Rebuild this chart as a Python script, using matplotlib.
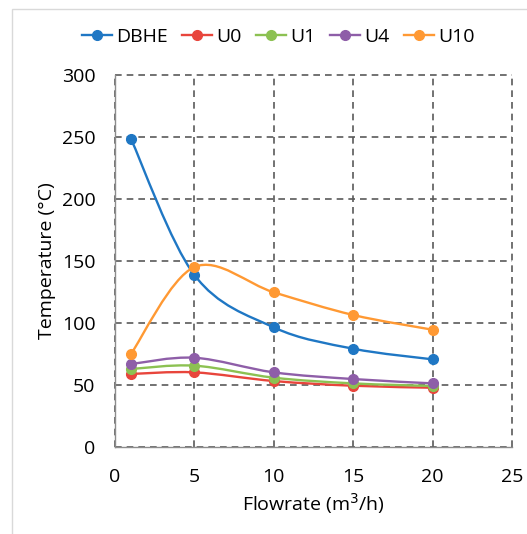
import matplotlib
matplotlib.use("Agg")
import matplotlib.pyplot as plt
from matplotlib.path import Path
from matplotlib.patches import PathPatch, Rectangle
from matplotlib.lines import Line2D
import numpy as np

plt.rcParams['font.family'] = ['Open Sans', 'DejaVu Sans']

flowrate = [1, 5, 10, 15, 20]
dbhe = [248.6, 138.6, 96.3, 79.1, 70.5]
u0 = [58.7, 60.0, 53.0, 49.2, 47.6]
u1 = [62.7, 65.4, 55.7, 51.1, 49.0]
u4 = [66.7, 71.8, 60.0, 54.6, 51.1]
u10 = [74.8, 145.0, 124.6, 106.3, 94.4]

series_names = ['DBHE', 'U0', 'U1', 'U4', 'U10']
series_values = [dbhe, u0, u1, u4, u10]
colors = ['#1f77c4', '#e8453c', '#8cc152', '#8e5ea8', '#ff9933']

xticks = [0, 5, 10, 15, 20, 25]
yticks = [0, 50, 100, 150, 200, 250, 300]

fig = plt.figure(figsize=(5.27, 5.34), dpi=100)
ax = fig.add_axes([115/527, 1-446.7/534, (512-115)/527, (446.7-75)/534])

# light frame of the original chart area
fig.patches.append(Rectangle((12/527, -0.1), 1.2, (534-9)/534 + 0.1, transform=fig.transFigure,
                             fill=False, edgecolor='#d9d9d9', linewidth=1.0))


def smooth_path(xs, ys):
    pts = np.column_stack([xs, ys]).astype(float)
    n = len(pts)
    verts = [pts[0]]
    codes = [Path.MOVETO]
    for i in range(n - 1):
        p0 = pts[i - 1] if i > 0 else pts[i]
        p1 = pts[i]
        p2 = pts[i + 1]
        p3 = pts[i + 2] if i + 2 < n else pts[i + 1]
        c1 = p1 + (p2 - p0) / 6.0
        c2 = p2 - (p3 - p1) / 6.0
        verts += [c1, c2, p2]
        codes += [Path.CURVE4] * 3
    return Path(verts, codes)


for name, vals, c in zip(series_names, series_values, colors):
    patch = PathPatch(smooth_path(flowrate, vals), facecolor='none', edgecolor=c,
                      linewidth=1.7, zorder=3)
    ax.add_patch(patch)
    ax.plot(flowrate, vals, linestyle='none', marker='o', markersize=7,
            color=c, zorder=4)

ax.set_xlim(0, 25)
ax.set_ylim(0, 300)
ax.set_xticks(xticks)
ax.set_yticks(yticks)
ax.grid(True, color='#5a5a5a', linestyle=(0, (4, 3)), linewidth=1.2)
ax.set_axisbelow(True)
for s in ['top', 'right']:
    ax.spines[s].set_visible(False)
for s in ['left', 'bottom']:
    ax.spines[s].set_color('#8c8c8c')
    ax.spines[s].set_linewidth(1.0)
ax.tick_params(length=0, labelsize=14, colors='#000000')
ax.tick_params(axis='y', pad=14)
ax.tick_params(axis='x', pad=15)
for gl in ax.get_xgridlines() + ax.get_ygridlines():
    gl.set_clip_on(False)

ax.set_xlabel('Flowrate (m$^3$/h)', fontsize=14, labelpad=4)
ax.set_ylabel('Temperature (°C)', fontsize=14, labelpad=4)

handles = [Line2D([0], [0], color=c, marker='o', markersize=7, linewidth=1.7)
           for c in colors]
fig.legend(handles, series_names, loc='center', bbox_to_anchor=(0.528, 1-37/534),
           ncol=5, frameon=False, fontsize=14, handlelength=1.55, handletextpad=0.2,
           columnspacing=0.75)

fig.savefig('out.png', dpi=100)
